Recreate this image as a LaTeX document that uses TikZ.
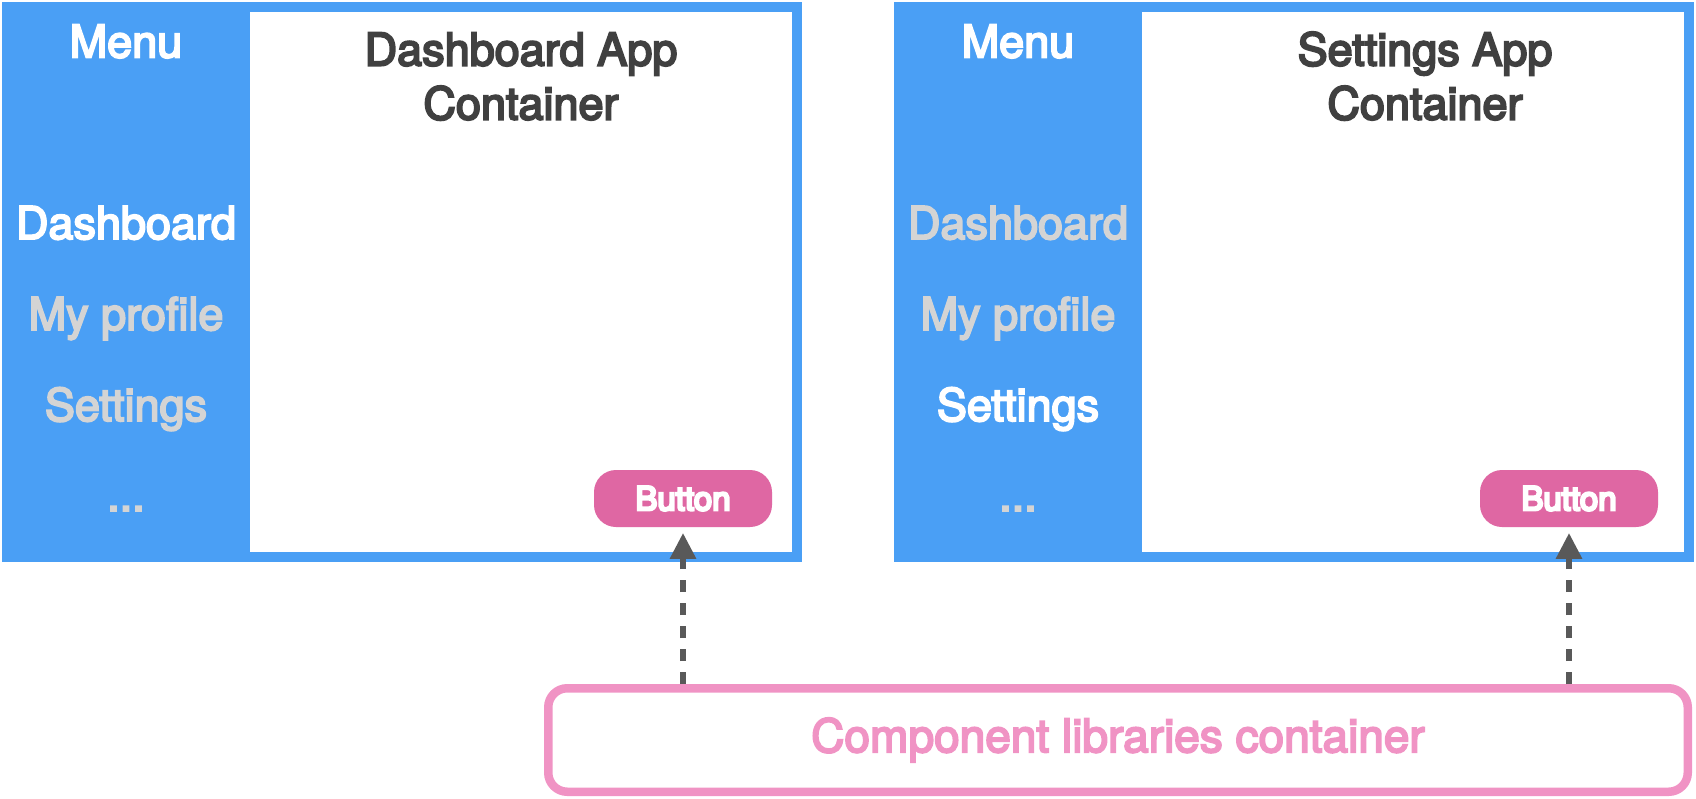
\documentclass[tikz,border=0pt]{standalone}
\usepackage{fontspec}
\setmainfont{TeX Gyre Heros}
\newfontfamily\medfont{TeX Gyre Heros}
\usetikzlibrary{arrows.meta,positioning}
\definecolor{menublue}{RGB}{74,159,245}
\definecolor{menugrey}{RGB}{212,212,212}
\definecolor{titlegrey}{RGB}{64,64,64}
\definecolor{buttonpink}{RGB}{223,103,163}
\definecolor{libpink}{RGB}{240,147,196}
\definecolor{arrowgrey}{RGB}{89,89,89}
% stroke the glyphs a little to get a medium weight
\newcommand\heavyon[1]{\special{pdf:literal direct 2 Tr #1 w}}
\newcommand\heavyoff{\special{pdf:literal direct 0 Tr}}

\begin{document}
\begin{tikzpicture}[x=0.5pt,y=-0.5pt,
  panel/.style={fill=menublue,minimum width=400pt,minimum height=280pt,inner sep=0pt},
  content/.style={fill=white,minimum width=271pt,minimum height=270pt,inner sep=0pt},
  medium/.style={execute at begin node={\heavyon{#1}},execute at end node={\heavyoff}},
  menuitem/.style={font=\medfont\fontsize{22.5}{27}\selectfont,text=menugrey,inner sep=0pt,anchor=base,medium=0.95},
  active/.style={text=white},
  title/.style={font=\medfont\fontsize{22.5}{27}\selectfont,text=titlegrey,align=center,inner sep=0pt,anchor=base,medium=1.0},
  button/.style={fill=buttonpink,rounded corners=11pt,minimum width=89pt,minimum height=28.5pt,inner sep=0pt,
    text=white,font=\medfont\fontsize{16.5}{19}\selectfont,medium=1.2},
  libbox/.style={draw=libpink,line width=4.25pt,rounded corners=9.5pt,minimum width=569.75pt,minimum height=51.75pt,
    inner sep=0pt,text=libpink,font=\medfont\fontsize{23}{27}\selectfont,medium=0.95},
  uses/.style={arrowgrey,line width=3pt,dash pattern=on 6pt off 5.5pt,-{Triangle[width=12.5pt,length=13pt]},shorten >=2.75pt}]
\useasboundingbox (0,0) rectangle (1696,798);
% dashboard app
\node[panel] (dashPanel) at (402,282) {};
\node[content] (dashContent) at (521,282) {};
\node[menuitem,active] (dashMenu) at (126,57.5) {Menu};
\node[menuitem,active] (dashItemA) at (126,239) {Dashboard};
\node[menuitem] (dashItemB) at (126,330) {My profile};
\node[menuitem] (dashItemC) at (126,421) {Settings};
\node[menuitem] (dashItemD) at (126,511) {...};
\node[title] (dashTitle) at (521,119.5) {Dashboard App\\Container};
\node[button] (dashBtn) at (683,498.5) {Button};
% settings app
\node[panel] (setPanel) at (1294,282) {};
\node[content] (setContent) at (1413,282) {};
\node[menuitem,active] (setMenu) at (1018,57.5) {Menu};
\node[menuitem] (setItemA) at (1018,239) {Dashboard};
\node[menuitem] (setItemB) at (1018,330) {My profile};
\node[menuitem,active] (setItemC) at (1018,421) {Settings};
\node[menuitem] (setItemD) at (1018,511) {...};
\node[title] (setTitle) at (1425,119.5) {Settings App\\Container};
\node[button] (setBtn) at (1569,498.5) {Button};
% component libraries
\node[libbox] (libs) at (1118,740) {Component libraries container};
\draw[uses] (dashBtn |- libs.north) -- (dashBtn.south);
\draw[uses] (setBtn |- libs.north) -- (setBtn.south);
\end{tikzpicture}
\end{document}
